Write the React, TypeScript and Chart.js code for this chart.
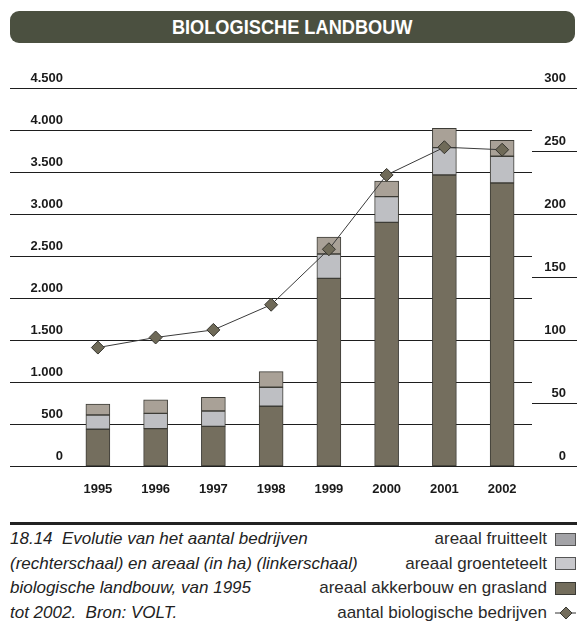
import React, { useEffect, useRef } from 'react';
import { Chart, registerables } from 'chart.js';

Chart.register(...registerables);

const years = ['1995', '1996', '1997', '1998', '1999', '2000', '2001', '2002'];
const akkerbouw = [437, 445, 472, 711, 2234, 2901, 3464, 3369];
const groenteteelt = [170, 182, 183, 226, 290, 305, 326, 318];
const fruitteelt = [131, 160, 163, 186, 202, 187, 230, 190];
const bedrijven = [94, 102, 108, 128, 172, 231, 253, 251];

const leftMax = 4500;
const leftStep = 500;
const rightMax = 300;
const rightStep = 50;

const captionLines = [
  '18.14  Evolutie van het aantal bedrijven',
  '(rechterschaal) en areaal (in ha) (linkerschaal)',
  'biologische landbouw, van 1995',
  'tot 2002.  Bron: VOLT.',
];

const legendItems = [
  { label: 'areaal fruitteelt', kind: 'box', fill: '#a3a3a7', stroke: '#555555' },
  { label: 'areaal groenteteelt', kind: 'box', fill: '#c8c8cc', stroke: '#555555' },
  { label: 'areaal akkerbouw en grasland', kind: 'box', fill: '#736d5c', stroke: '#3a3a35' },
  { label: 'aantal biologische bedrijven', kind: 'line', fill: '#736d5c', stroke: '#3a3a35' },
];

const fmtThousands = (v: number) =>
  String(Math.round(v)).replace(/\B(?=(\d{3})+(?!\d))/g, '.');

const tickFont = { family: '"Liberation Sans", Arial, sans-serif', size: 13, weight: 'bold' as const };

const gridPlugin = {
  id: 'customGrid',
  beforeDatasetsDraw(chart: any) {
    const { ctx, chartArea, scales } = chart;
    ctx.save();
    ctx.strokeStyle = '#1e1e1e';
    ctx.lineWidth = 1;
    const xr = Math.round(chartArea.right) + 1;
    scales.y.ticks.forEach((t: any) => {
      const py = Math.round(scales.y.getPixelForValue(t.value)) + 0.5;
      ctx.beginPath();
      ctx.moveTo(10, py);
      ctx.lineTo(xr, py);
      ctx.stroke();
    });
    scales.y1.ticks.forEach((t: any) => {
      const py = Math.round(scales.y1.getPixelForValue(t.value)) + 0.5;
      ctx.beginPath();
      ctx.moveTo(xr, py);
      ctx.lineTo(577, py);
      ctx.stroke();
    });
    ctx.restore();
  },
};

function LegendMark({ item }: { item: any }) {
  if (item.kind === 'box') {
    return (
      <span
        style={{
          display: 'inline-block',
          width: 19,
          height: 11,
          background: item.fill,
          border: `1px solid ${item.stroke}`,
        }}
      />
    );
  }
  return (
    <svg width={22} height={14} style={{ display: 'block' }}>
      <line x1={0} y1={7} x2={22} y2={7} stroke="#333" strokeWidth={1} />
      <polygon points="11,1 17,7 11,13 5,7" fill={item.fill} stroke={item.stroke} strokeWidth={1} />
    </svg>
  );
}

export default function App() {
  const canvasRef = useRef<HTMLCanvasElement | null>(null);

  useEffect(() => {
    if (!canvasRef.current) return;
    const barBorder = '#3d3c36';
    const noGrid = { display: false, drawTicks: false };
    const chart = new Chart(canvasRef.current, {
      type: 'bar',
      data: {
        labels: years,
        datasets: [
          {
            type: 'line' as const,
            label: 'aantal biologische bedrijven',
            data: bedrijven,
            yAxisID: 'y1',
            borderColor: '#3a3a3a',
            borderWidth: 1,
            pointStyle: 'rectRot',
            pointRadius: 6.5,
            pointBackgroundColor: '#6f6a58',
            pointBorderColor: '#35342e',
            pointBorderWidth: 1,
            tension: 0,
            order: 0,
          } as any,
          {
            label: 'areaal akkerbouw en grasland',
            data: akkerbouw,
            backgroundColor: '#746e5e',
            borderColor: barBorder,
            borderWidth: 1,
            borderSkipped: false,
            barThickness: 24,
            yAxisID: 'y',
            order: 1,
          },
          {
            label: 'areaal groenteteelt',
            data: groenteteelt,
            backgroundColor: '#bebfc3',
            borderColor: barBorder,
            borderWidth: 1,
            borderSkipped: false,
            barThickness: 24,
            yAxisID: 'y',
            order: 1,
          },
          {
            label: 'areaal fruitteelt',
            data: fruitteelt,
            backgroundColor: '#a9a197',
            borderColor: barBorder,
            borderWidth: 1,
            borderSkipped: false,
            barThickness: 24,
            yAxisID: 'y',
            order: 1,
          },
        ],
      },
      options: {
        responsive: false,
        animation: false,
        devicePixelRatio: 1,
        layout: { padding: { left: 10, top: 88, right: 13, bottom: 4 } },
        plugins: {
          legend: { display: false },
          tooltip: { enabled: false },
          title: { display: false },
        },
        scales: {
          x: {
            stacked: true,
            grid: noGrid,
            border: { display: false },
            ticks: { font: tickFont, color: '#1a1a1a', padding: 16 },
            afterFit: (s: any) => {
              s.height = 40;
            },
          },
          y: {
            stacked: true,
            position: 'left',
            min: 0,
            max: leftMax,
            grid: noGrid,
            border: { display: false },
            ticks: {
              stepSize: leftStep,
              padding: 6,
              labelOffset: -9.5,
              font: tickFont,
              color: '#1a1a1a',
              callback: (v: any) => fmtThousands(Number(v)),
            },
            afterFit: (s: any) => {
              s.width = 59;
            },
          },
          y1: {
            position: 'right',
            min: 0,
            max: rightMax,
            grid: noGrid,
            border: { display: false },
            ticks: {
              stepSize: rightStep,
              crossAlign: 'far',
              labelOffset: -9.5,
              font: tickFont,
              color: '#1a1a1a',
            },
            afterFit: (s: any) => {
              s.width = 35;
            },
          },
        },
      } as any,
      plugins: [gridPlugin],
    });
    return () => chart.destroy();
  }, []);

  return (
    <div style={{ position: 'absolute', left: 0, top: 0, width: 579, height: 631, background: '#fff' }}>
      <div
        style={{
          position: 'absolute',
          left: 10,
          top: 11,
          width: 565,
          height: 32,
          borderRadius: 9,
          background: '#4b5040',
          color: '#ffffff',
          textAlign: 'center',
          lineHeight: '33px',
          fontFamily: '"Liberation Sans", Arial, sans-serif',
          fontWeight: 'bold',
          fontSize: 20,
        }}
      >
        <span style={{ display: 'inline-block', transform: 'scaleX(0.91)' }}>BIOLOGISCHE LANDBOUW</span>
      </div>
      <canvas
        ref={canvasRef}
        width={579}
        height={510}
        style={{ position: 'absolute', left: 0, top: 0, width: 579, height: 510 }}
      />
      <div style={{ position: 'absolute', left: 10, top: 522, width: 567, height: 3, background: '#222' }} />
      <div
        style={{
          position: 'absolute',
          left: 10,
          top: 527,
          fontFamily: '"Liberation Sans", Arial, sans-serif',
          fontStyle: 'italic',
          fontSize: 17,
          lineHeight: '24.5px',
          color: '#222',
          whiteSpace: 'pre',
        }}
      >
        {captionLines.map((l, i) => (
          <div key={i}>{l}</div>
        ))}
      </div>
      <div
        style={{
          position: 'absolute',
          right: 3,
          top: 527,
          fontFamily: '"Liberation Sans", Arial, sans-serif',
          fontSize: 17,
          lineHeight: '24.5px',
          color: '#2a2a2a',
        }}
      >
        {legendItems.map((it, i) => (
          <div
            key={i}
            style={{ display: 'flex', justifyContent: 'flex-end', alignItems: 'center', height: 24.5 }}
          >
            <span style={{ marginRight: 8 }}>{it.label}</span>
            <span style={{ width: 21, display: 'flex', justifyContent: 'center' }}>
              <LegendMark item={it} />
            </span>
          </div>
        ))}
      </div>
    </div>
  );
}
